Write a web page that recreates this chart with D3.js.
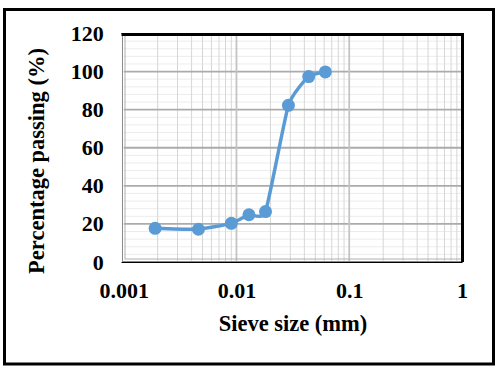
<!DOCTYPE html>
<html>
<head>
<meta charset="utf-8">
<script src="https://cdn.jsdelivr.net/npm/d3@7"></script>
<style>
  body { margin: 0; background: #fff; }
  text { font-family: "Liberation Serif", "Times New Roman", serif; font-weight: bold; }
</style>
</head>
<body>
<div id="chart"></div>
<script>
// grain size distribution
var sieveSize = [0.0019, 0.0046, 0.009, 0.0129, 0.0181, 0.0289, 0.0437, 0.0614]
var passing = [17.7, 17.2, 20.3, 24.8, 26.5, 82.3, 97.4, 99.8]
var xTicks = [0.001, 0.01, 0.1, 1]
var yTicks = [0, 20, 40, 60, 80, 100, 120]

var svgSize = { width: 500, height: 372 }
var plot = { left: 123.7, right: 462, top: 33.5, bottom: 262 }

var svg = d3.select("#chart").append("svg")
    .attr("width", svgSize.width)
    .attr("height", svgSize.height)

// outer frame
svg.append("rect")
    .attr("x", 4.5).attr("y", 9.5)
    .attr("width", 489).attr("height", 354.5)
    .attr("fill", "white")
    .attr("stroke", "black")
    .attr("stroke-width", 3)

var xScale = d3.scaleLog()
    .domain([0.001, 1])
    .range([plot.left, plot.right])

var yScale = d3.scaleLinear()
    .domain([0, 120])
    .range([plot.bottom, plot.top])

var grid = svg.append("g")

// minor horizontal lines
var yMinor = d3.range(0, 121, 4).filter(v => v % 20 != 0)
grid.selectAll(".hminor").data(yMinor).enter().append("line")
    .attr("x1", plot.left).attr("x2", plot.right)
    .attr("y1", d => yScale(d)).attr("y2", d => yScale(d))
    .attr("stroke", "#ececec")
    .attr("stroke-width", 1)

// minor vertical lines
var xMinor = []
for (var dec = 0.001; dec < 1; dec *= 10) {
    for (var k = 2; k <= 9; k++) xMinor.push(dec * k)
}
grid.selectAll(".vminor").data(xMinor).enter().append("line")
    .attr("x1", d => xScale(d)).attr("x2", d => xScale(d))
    .attr("y1", plot.top).attr("y2", plot.bottom)
    .attr("stroke", "#d6d6d6")
    .attr("stroke-width", 1)

// major lines
grid.selectAll(".hmajor").data(yTicks.slice(1, -1)).enter().append("line")
    .attr("x1", plot.left).attr("x2", plot.right)
    .attr("y1", d => yScale(d)).attr("y2", d => yScale(d))
    .attr("stroke", "#ababab")
    .attr("stroke-width", 1.8)

grid.selectAll(".vmajor").data(xTicks.slice(1, -1)).enter().append("line")
    .attr("x1", d => xScale(d)).attr("x2", d => xScale(d))
    .attr("y1", plot.top).attr("y2", plot.bottom)
    .attr("stroke", "#c4c4c4")
    .attr("stroke-width", 1.8)

// plot border: grey double line, black on top / right / bottom
svg.append("rect")
    .attr("x", 122.5).attr("y", plot.top)
    .attr("width", plot.right - 122.5).attr("height", plot.bottom - plot.top - 0.5)
    .attr("fill", "none").attr("stroke", "#8a8a8a").attr("stroke-width", 1)
svg.append("rect")
    .attr("x", 125).attr("y", plot.top)
    .attr("width", plot.right - 125).attr("height", plot.bottom - plot.top - 3)
    .attr("fill", "none").attr("stroke", "#b0b0b0").attr("stroke-width", 1)
svg.append("path")
    .attr("d", `M121.5,${plot.top}H${plot.right}V${plot.bottom + 0.5}H121.5`)
    .attr("fill", "none").attr("stroke", "black").attr("stroke-width", 1.2)
svg.append("path")
    .attr("d", `M121.5,${plot.top + 1}H${plot.right + 0.5}V${plot.bottom}`)
    .attr("fill", "none").attr("stroke", "black").attr("stroke-width", 3)

// axes
var xAxis = d3.axisBottom(xScale)
    .tickValues(xTicks)
    .tickFormat(d => String(d))
    .tickSize(0)
    .tickPadding(20)
var yAxis = d3.axisLeft(yScale)
    .tickValues(yTicks)
    .tickFormat(d3.format("d"))
    .tickSize(0)
    .tickPadding(20)

var gx = svg.append("g").attr("transform", `translate(0, ${plot.bottom})`).call(xAxis)
var gy = svg.append("g").attr("transform", `translate(${plot.left}, 0)`).call(yAxis)
gx.select(".domain").remove()
gy.select(".domain").remove()
svg.selectAll(".tick text")
    .style("font-family", "'Liberation Serif', serif")
    .style("font-weight", "bold")
    .style("font-size", "22px")
    .attr("fill", "black")

// titles
svg.append("text")
    .attr("x", 293).attr("y", 331)
    .attr("text-anchor", "middle")
    .attr("font-size", 22.5)
    .text("Sieve size (mm)")

svg.append("text")
    .attr("transform", "translate(44, 161) rotate(-90)")
    .attr("text-anchor", "middle")
    .attr("font-size", 22.5)
    .text("Percentage passing (%)")

// data, smoothed like the spreadsheet line
var pts = sieveSize.map((s, i) => [xScale(s), yScale(passing[i])])

svg.append("path")
    .attr("d", d3.line().curve(d3.curveCardinal.tension(0.5))(pts))
    .attr("fill", "none")
    .attr("stroke", "#5b9bd5")
    .attr("stroke-width", 3.5)

svg.selectAll(".pt").data(sieveSize).enter().append("circle")
    .attr("cx", d => xScale(d))
    .attr("cy", (d, i) => yScale(passing[i]))
    .attr("r", 6.5)
    .attr("fill", "#5b9bd5")
</script>
</body>
</html>
